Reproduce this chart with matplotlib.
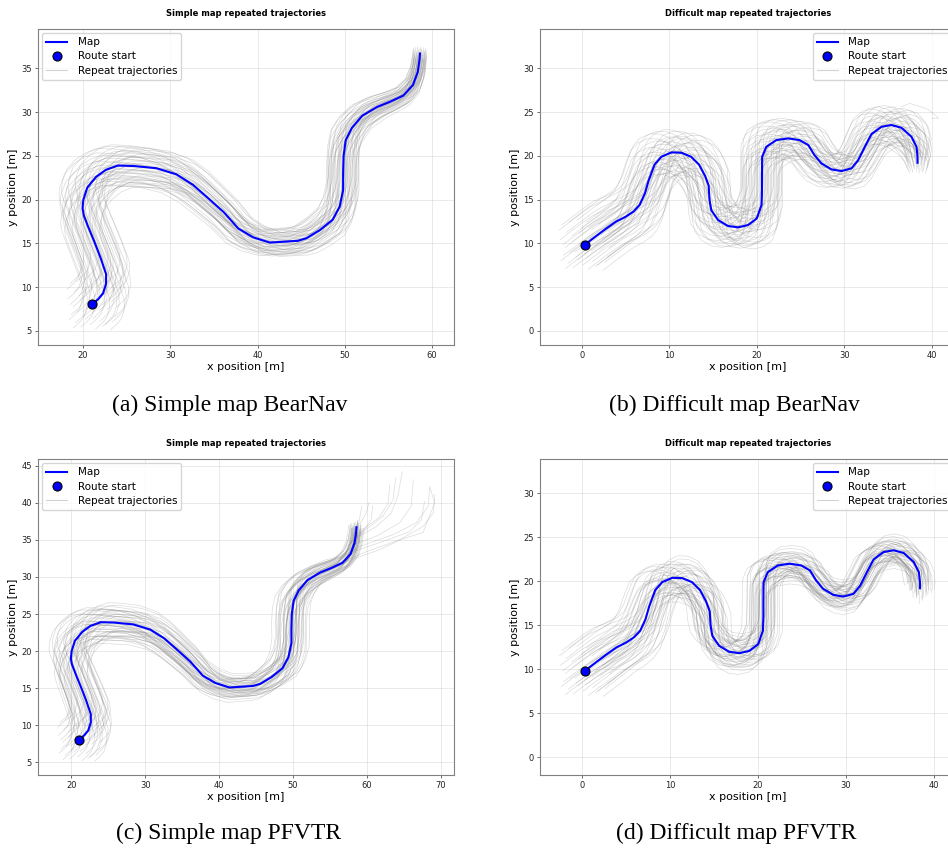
import numpy as np
import matplotlib
matplotlib.use("Agg")
import matplotlib.pyplot as plt
from matplotlib.lines import Line2D

# ---------------- data ----------------
SIMPLE_MAP_X = [21.07, 21.8, 22.3, 22.65, 22.65, 22.0, 21.3, 20.6, 20.1, 19.95,
                20.05, 20.5, 21.5, 22.6, 24.0, 25.8,
                28.4, 30.7, 32.6, 34.2, 36.1, 37.8,
                39.5, 41.4, 43.0, 44.6, 45.6, 47.1,
                48.6, 49.4, 49.8, 49.8, 49.85, 50.1, 50.8,
                52.0, 53.7, 55.2, 56.7, 57.8, 58.35, 58.55, 58.6]
SIMPLE_MAP_Y = [8.05, 8.7, 9.3, 10.4, 11.5, 13.4, 15.2, 16.9, 18.2, 19.0,
                20.0, 21.4, 22.6, 23.4, 23.9, 23.85,
                23.6, 22.9, 21.7, 20.3, 18.6, 16.7,
                15.7, 15.1, 15.2, 15.3, 15.6, 16.5,
                17.7, 19.2, 21.1, 23.0, 25.0, 26.8, 28.2,
                29.6, 30.6, 31.2, 31.9, 33.1, 34.6, 36.0, 36.7]

DIFF_MAP_X = [0.31, 1.5, 2.7, 3.9, 5.0, 5.9, 6.6, 7.2, 7.6,
              8.3, 9.08, 10.23, 11.37, 12.5,
              13.4, 14.1, 14.5, 14.6, 14.8, 15.57, 16.7, 17.86, 19.0,
              20.0, 20.55, 20.6, 20.6, 20.62,
              21.1, 22.25, 23.6, 24.9, 25.9, 26.6,
              27.4, 28.55, 29.7, 30.84, 31.6,
              32.37, 33.13, 34.27, 35.42, 36.56, 37.7,
              38.28, 38.4, 38.4]
DIFF_MAP_Y = [9.84, 10.75, 11.65, 12.5, 13.05, 13.65, 14.4, 15.7, 17.1,
              19.0, 19.9, 20.4, 20.37, 19.9,
              19.0, 17.7, 16.6, 14.96, 13.8, 12.68, 12.0, 11.84, 12.1,
              12.85, 14.4, 16.0, 18.0, 19.9,
              21.05, 21.81, 22.0, 21.81, 21.24, 20.1,
              19.15, 18.46, 18.27, 18.58, 19.5,
              21.05, 22.5, 23.33, 23.53, 23.22, 22.19,
              21.05, 19.9, 19.22]

# start offsets of the 49 repeat runs relative to the route start [m]
START_OFFSET_X = [0.0, -1.5, 1.5, -2.2, 0.8, -0.8, 2.2, -2.6, 0.4, -1.1,
                  1.9, -1.9, 1.1, -0.4, 2.6, -2.8, 0.2, -1.3, 1.7, -2.1,
                  0.9, -0.6, 2.4, -2.4, 0.6, -0.9, 2.1, -1.7, 1.3, -0.2,
                  2.8, -2.9, 0.1, -1.4, 1.6, -2.2, 0.8, -0.7, 2.3, -2.5,
                  0.5, -1.0, 2.0, -1.8, 1.2, -0.3, 2.7, -2.7, 0.3]
START_OFFSET_Y = [-1.0, 1.0, -2.3, -0.3, 1.7, -1.7, 0.3, 2.3, -2.8, -0.8,
                  1.2, -2.1, -0.1, 1.9, -1.4, 0.6, 2.6, -2.6, -0.6, 1.4,
                  -1.9, 0.1, 2.1, -1.2, 0.8, 2.8, -2.9, -0.9, 1.1, -2.3,
                  -0.3, 1.7, -1.6, 0.4, 2.4, -2.7, -0.7, 1.3, -2.0, 0.0,
                  2.0, -1.4, 0.6, 2.6, -2.5, -0.5, 1.5, -1.8, 0.2]

# share of the start offset that remains at each map waypoint
SPREAD_A = [1.0, 1.0, 1.0, 1.0, 0.98, 0.97, 0.96, 0.95, 0.94, 0.93,
            0.92, 0.9, 0.88, 0.86, 0.85, 0.84,
            0.82, 0.78, 0.74, 0.7, 0.66, 0.62,
            0.58, 0.55, 0.55, 0.56, 0.57, 0.6,
            0.62, 0.64, 0.65, 0.65, 0.63, 0.6, 0.55,
            0.5, 0.45, 0.4, 0.36, 0.32, 0.3, 0.28, 0.27]
SPREAD_C = [1.0, 1.0, 1.0, 1.0, 0.98, 0.96, 0.94, 0.92, 0.9, 0.88,
            0.87, 0.86, 0.85, 0.84, 0.83, 0.82,
            0.78, 0.74, 0.7, 0.66, 0.62, 0.58,
            0.54, 0.5, 0.48, 0.48, 0.5, 0.54,
            0.6, 0.64, 0.66, 0.66, 0.64, 0.6, 0.55,
            0.48, 0.42, 0.36, 0.32, 0.28, 0.26, 0.24, 0.24]
SPREAD_B = [1.0, 1.0, 1.0, 1.0, 0.99, 0.98, 0.97, 0.96, 0.95,
            0.94, 0.93, 0.93, 0.92, 0.92,
            0.91, 0.9, 0.89, 0.88, 0.87, 0.86, 0.85, 0.85, 0.85,
            0.85, 0.85, 0.84, 0.84, 0.83,
            0.83, 0.82, 0.82, 0.81, 0.8, 0.78,
            0.75, 0.72, 0.7, 0.7, 0.72,
            0.75, 0.78, 0.8, 0.8, 0.78, 0.72,
            0.62, 0.5, 0.42]
SPREAD_D = [1.0, 1.0, 1.0, 0.98, 0.95, 0.92, 0.88, 0.84, 0.8,
            0.76, 0.72, 0.7, 0.68, 0.66,
            0.64, 0.62, 0.6, 0.58, 0.56, 0.55, 0.54, 0.54, 0.54,
            0.53, 0.52, 0.52, 0.51, 0.5,
            0.5, 0.5, 0.49, 0.48, 0.46, 0.44,
            0.42, 0.4, 0.4, 0.4, 0.4,
            0.4, 0.4, 0.4, 0.4, 0.4, 0.4,
            0.4, 0.4, 0.38]
# extra drift of each run away from its start offset (crossing runs)
WANDER_A = [0.0] * 43
WANDER_B = [0.0] * 48
WANDER_C = [0.0, 0.0, 0.0, 0.02, 0.05, 0.08, 0.1, 0.12, 0.14, 0.16,
            0.18, 0.2, 0.22, 0.24, 0.25, 0.25,
            0.25, 0.25, 0.25, 0.25, 0.25, 0.25,
            0.25, 0.25, 0.25, 0.25, 0.25, 0.25,
            0.25, 0.25, 0.28, 0.3, 0.3, 0.3, 0.28,
            0.25, 0.22, 0.2, 0.18, 0.16, 0.15, 0.15, 0.15]
WANDER_D = [0.0, 0.0, 0.02, 0.05, 0.08, 0.12, 0.16, 0.2, 0.24,
            0.28, 0.3, 0.32, 0.33, 0.34,
            0.35, 0.35, 0.35, 0.35, 0.35, 0.35, 0.35, 0.35, 0.35,
            0.35, 0.35, 0.35, 0.35, 0.35,
            0.35, 0.35, 0.35, 0.35, 0.35, 0.35,
            0.35, 0.35, 0.35, 0.35, 0.35,
            0.35, 0.35, 0.35, 0.35, 0.35, 0.35,
            0.3, 0.28, 0.25]

# individual runs that overshoot the end of the simple map (PFVTR)
TAILS_C = [
    [(57.2, 34.1), (59.0, 35.5), (61.3, 36.8), (63.3, 38.6), (64.2, 40.9), (64.8, 44.2)],
    [(57.7, 34.6), (59.9, 36.4), (62.2, 38.2), (63.55, 40.4), (63.9, 43.3)],
    [(56.8, 32.1), (59.9, 33.4), (64.45, 35.0), (67.6, 36.8), (69.0, 38.6), (69.2, 41.1)],
    [(56.3, 32.5), (59.0, 34.1), (63.55, 35.7), (66.7, 37.3), (68.3, 39.5), (68.5, 42.0)],
    [(58.1, 36.4), (59.3, 37.5), (59.9, 38.6), (60.3, 40.0)],
    [(58.6, 35.5), (59.7, 36.4), (60.6, 37.7), (60.8, 39.6)],
    [(58.1, 34.3), (61.3, 35.5), (64.45, 37.3), (66.0, 39.5), (66.3, 43.1)],
    [(59.5, 36.4), (61.75, 38.1), (62.9, 40.0), (63.1, 42.4)],
    [(58.4, 36.4), (59.0, 37.7), (59.3, 39.5)],
    [(58.1, 33.4), (62.2, 34.8), (65.8, 36.1), (67.4, 37.7), (67.8, 40.2)],
    [(55.5, 31.5), (61.8, 33.7), (64.5, 35.0), (67.6, 36.0), (69.2, 40.0), (68.5, 42.2)],
]
TAILS_B = [
    [(36.5, 25.6), (37.5, 26.0), (39.45, 25.4), (40.4, 24.7), (40.8, 24.3), (40.0, 24.3)],
]

TITLES = ["Simple map repeated trajectories", "Difficult map repeated trajectories",
          "Simple map repeated trajectories", "Difficult map repeated trajectories"]
CAPTIONS = ["(a) Simple map BearNav", "(b) Difficult map BearNav",
            "(c) Simple map PFVTR", "(d) Difficult map PFVTR"]

# ---------------- layout ----------------
W, H = 948, 848
fig = plt.figure(figsize=(W / 100, H / 100), dpi=100)

def pos(l, t, r, b):
    return [l / W, 1 - b / H, (r - l) / W, (b - t) / H]

panels = [
    dict(rect=pos(38, 29, 454, 345), mx=SIMPLE_MAP_X, my=SIMPLE_MAP_Y, spread=SPREAD_A,
         wander=WANDER_A, tails=[], xlim=(14.85, 62.5), ylim=(3.4, 39.5),
         xt=[20, 30, 40, 50, 60], yt=[5, 10, 15, 20, 25, 30, 35],
         loc="upper left", cap=(230, 405)),
    dict(rect=pos(540, 29, 956, 345), mx=DIFF_MAP_X, my=DIFF_MAP_Y, spread=SPREAD_B,
         wander=WANDER_B, tails=TAILS_B, xlim=(-4.8, 42.8), ylim=(-1.6, 34.5),
         xt=[0, 10, 20, 30, 40], yt=[0, 5, 10, 15, 20, 25, 30],
         loc="upper right", cap=(734, 405)),
    dict(rect=pos(38, 459, 454, 775), mx=SIMPLE_MAP_X, my=SIMPLE_MAP_Y, spread=SPREAD_C,
         wander=WANDER_C, tails=TAILS_C, xlim=(15.5, 71.8), ylim=(3.3, 45.9),
         xt=[20, 30, 40, 50, 60, 70], yt=[5, 10, 15, 20, 25, 30, 35, 40, 45],
         loc="upper left", cap=(229, 833)),
    dict(rect=pos(540, 459, 956, 775), mx=DIFF_MAP_X, my=DIFF_MAP_Y, spread=SPREAD_D,
         wander=WANDER_D, tails=[], xlim=(-4.8, 42.5), ylim=(-2.0, 33.9),
         xt=[0, 10, 20, 30, 40], yt=[0, 5, 10, 15, 20, 25, 30],
         loc="upper right", cap=(736, 833)),
]

TRAJ_COLOR = "gray"
TRAJ_ALPHA = 0.28
TRAJ_LW = 0.5
MAP_COLOR = "#0000ff"

n_runs = len(START_OFFSET_X)
for i, p in enumerate(panels):
    ax = fig.add_axes(p["rect"])
    mx = np.array(p["mx"])
    my = np.array(p["my"])
    s = np.array(p["spread"])
    w = np.array(p["wander"])
    for j in range(n_runs):
        ox, oy = START_OFFSET_X[j], START_OFFSET_Y[j]
        wx, wy = START_OFFSET_Y[n_runs - 1 - j], START_OFFSET_X[n_runs - 1 - j]
        ax.plot(mx + ox * s + wx * w, my + oy * s + wy * w, color=TRAJ_COLOR,
                alpha=TRAJ_ALPHA, lw=TRAJ_LW, zorder=1)
    for t in p["tails"]:
        tx, ty = zip(*t)
        ax.plot(tx, ty, color=TRAJ_COLOR, alpha=TRAJ_ALPHA, lw=TRAJ_LW, zorder=1)
    ax.plot(mx, my, color=MAP_COLOR, lw=1.5, zorder=3)
    ax.plot(mx[0], my[0], "o", color=MAP_COLOR, mec="black", mew=0.8, ms=6.5, zorder=4)

    ax.set_xlim(*p["xlim"])
    ax.set_ylim(*p["ylim"])
    ax.set_xticks(p["xt"])
    ax.set_yticks(p["yt"])
    ax.grid(True, color="#b0b0b0", alpha=0.3, lw=0.6)
    ax.set_axisbelow(True)
    for sp in ax.spines.values():
        sp.set_color("#808080")
        sp.set_linewidth(0.8)
    ax.tick_params(labelsize=6, length=2.5, width=0.6, color="#555555",
                   labelcolor="#222222", pad=2)
    ax.set_xlabel("x position [m]", fontsize=8, labelpad=1)
    ax.set_ylabel("y position [m]", fontsize=8, labelpad=2)
    ax.set_title(TITLES[i], fontsize=6, fontweight="bold", pad=9)

    handles = [
        Line2D([], [], color=MAP_COLOR, lw=1.5, label="Map"),
        Line2D([], [], ls="none", marker="o", color=MAP_COLOR, mec="black", mew=0.8,
               ms=6.5, label="Route start"),
        Line2D([], [], color=TRAJ_COLOR, alpha=0.35, lw=0.8, label="Repeat trajectories"),
    ]
    ax.legend(handles=handles, loc=p["loc"], fontsize=7.5, frameon=True,
              borderpad=0.4, labelspacing=0.4, handlelength=2.0, handletextpad=1.0,
              borderaxespad=0.4, framealpha=0.8, edgecolor="#cccccc")

    fig.text(p["cap"][0] / W, 1 - p["cap"][1] / H, CAPTIONS[i], ha="center", va="center",
             fontsize=17, family="Liberation Serif")

fig.savefig("out.png", dpi=100)
